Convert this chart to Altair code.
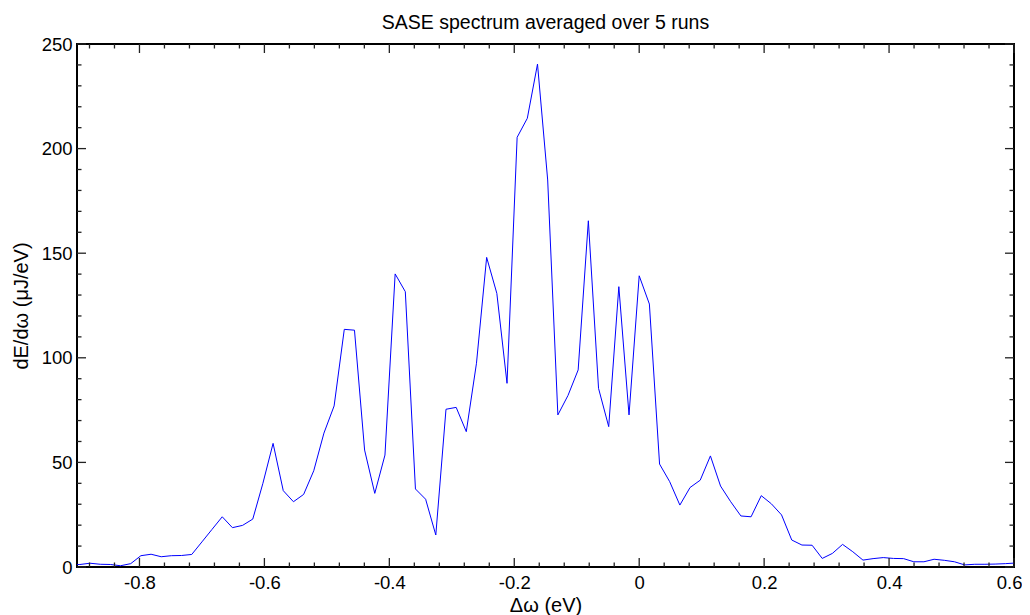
import altair as alt
import pandas as pd

# photon energy offset (eV) and spectral density (uJ/eV)
x_ev = [-0.9117, -0.8954, -0.8791, -0.8628, -0.8466, -0.8303, -0.8140, -0.7977, -0.7814, -0.7652,
        -0.7489, -0.7326, -0.7163, -0.7000, -0.6838, -0.6675, -0.6512, -0.6349, -0.6186, -0.6024,
        -0.5861, -0.5698, -0.5535, -0.5372, -0.5210, -0.5047, -0.4884, -0.4721, -0.4558, -0.4396,
        -0.4233, -0.4070, -0.3907, -0.3744, -0.3582, -0.3419, -0.3256, -0.3093, -0.2930, -0.2768,
        -0.2605, -0.2442, -0.2279, -0.2116, -0.1954, -0.1791, -0.1628, -0.1465, -0.1302, -0.1140,
        -0.0977, -0.0814, -0.0651, -0.0488, -0.0326, -0.0163, 0.0, 0.0163, 0.0326, 0.0488,
        0.0651, 0.0814, 0.0977, 0.1140, 0.1302, 0.1465, 0.1628, 0.1791, 0.1954, 0.2116,
        0.2279, 0.2442, 0.2605, 0.2768, 0.2930, 0.3093, 0.3256, 0.3419, 0.3582, 0.3744,
        0.3907, 0.4070, 0.4233, 0.4396, 0.4558, 0.4721, 0.4884, 0.5047, 0.5210, 0.5372,
        0.5535, 0.5698, 0.5861, 0.6024]
dE = [1.0, 1.2, 1.8, 1.3, 1.2, 0.6, 1.6, 5.4, 6.1, 4.9,
      5.4, 5.5, 6.0, 12.0, 18.0, 24.0, 18.8, 19.9, 22.9, 40.0,
      59.1, 36.5, 31.2, 34.7, 46.0, 64.0, 77.0, 113.6, 113.2, 55.9,
      35.2, 53.5, 140.1, 131.6, 37.3, 32.4, 15.3, 75.4, 76.3, 64.7,
      97.4, 148.0, 130.8, 87.8, 205.4, 214.5, 240.4, 185.0, 72.7, 82.0,
      94.2, 165.5, 85.4, 67.1, 134.0, 72.7, 139.2, 125.7, 49.2, 40.8,
      29.6, 38.0, 41.5, 53.1, 38.7, 31.2, 24.4, 24.0, 34.1, 30.2,
      24.9, 12.9, 10.5, 10.4, 4.1, 6.5, 10.8, 7.3, 3.3, 4.0,
      4.5, 4.1, 4.0, 2.5, 2.5, 3.7, 3.2, 2.5, 1.0, 1.3,
      1.3, 1.4, 1.6, 1.9]

x_major = [-0.8, -0.6, -0.4, -0.2, 0.0, 0.2, 0.4, 0.6]
x_minor = [-0.88, -0.84, -0.76, -0.72, -0.68, -0.64, -0.56, -0.52, -0.48, -0.44,
           -0.36, -0.32, -0.28, -0.24, -0.16, -0.12, -0.08, -0.04, 0.04, 0.08,
           0.12, 0.16, 0.24, 0.28, 0.32, 0.36, 0.44, 0.48, 0.52, 0.56]
y_major = [0, 50, 100, 150, 200, 250]
y_minor = [10, 20, 30, 40, 60, 70, 80, 90, 110, 120, 130, 140,
           160, 170, 180, 190, 210, 220, 230, 240]

W, H = 937, 523
FONT = "Liberation Sans"
MAJ, MIN = 9, 4.5

df = pd.DataFrame({"x": x_ev, "y": dE})
xs = alt.Scale(domain=[-0.9, 0.6], nice=False, zero=False)
ys = alt.Scale(domain=[0, 250], nice=False, zero=False)

xlabel = ("datum.value == 0 ? '0' : (datum.value < 0 ? '-' + format(-datum.value, '.1f')"
          " : format(datum.value, '.1f'))")

x_axis = alt.Axis(title="Δω (eV)", values=x_major, labelExpr=xlabel,
                  ticks=False, domain=False, grid=False, labelPadding=6,
                  labelFontSize=18.5, titleFontSize=20, labelFont=FONT,
                  titleFont=FONT, titleFontWeight="normal", labelColor="black",
                  titleColor="black", titlePadding=4, labelFlush=True,
                  labelFlushOffset=8)
y_axis = alt.Axis(title="dE/dω (μJ/eV)", values=y_major, format="d",
                  ticks=False, domain=False, grid=False, labelPadding=5,
                  labelFontSize=18.5, titleFontSize=20, labelFont=FONT,
                  titleFont=FONT, titleFontWeight="normal", labelColor="black",
                  titleColor="black", titlePadding=10, labelFlush=False)

line = alt.Chart(df).mark_line(color="#0000ff", strokeWidth=1, clip=True).encode(
    x=alt.X("x:Q", scale=xs, axis=x_axis),
    y=alt.Y("y:Q", scale=ys, axis=y_axis),
)

TICK = dict(color="#222222", strokeWidth=1.3)


def xticks(vals, L):
    d = pd.DataFrame({"x": vals})
    bottom = alt.Chart(d).mark_rule(**TICK).encode(
        x=alt.X("x:Q", scale=xs, axis=x_axis), y=alt.value(H), y2=alt.value(H - L))
    top = alt.Chart(d).mark_rule(**TICK).encode(
        x=alt.X("x:Q", scale=xs, axis=x_axis), y=alt.value(0), y2=alt.value(L))
    return [bottom, top]


def yticks(vals, L):
    d = pd.DataFrame({"y": vals})
    left = alt.Chart(d).mark_rule(**TICK).encode(
        y=alt.Y("y:Q", scale=ys, axis=y_axis), x=alt.value(0), x2=alt.value(L))
    right = alt.Chart(d).mark_rule(**TICK).encode(
        y=alt.Y("y:Q", scale=ys, axis=y_axis), x=alt.value(W), x2=alt.value(W - L))
    return [left, right]


layers = [line] + xticks(x_major, MAJ) + xticks(x_minor, MIN) + yticks(y_major, MAJ) + yticks(y_minor, MIN)

chart = alt.layer(*layers).properties(
    width=W, height=H,
    background="white",
    title=alt.TitleParams("SASE spectrum averaged over 5 runs", fontSize=19.5, font=FONT,
                          fontWeight="normal", color="black", anchor="middle", offset=2),
    autosize=alt.AutoSizeParams(type="none"),
    padding={"left": 69, "top": 36, "right": 8, "bottom": 50},
).configure_view(stroke="black", strokeWidth=2)

chart.save("out.html", embed_options={"renderer": "svg", "actions": False})
